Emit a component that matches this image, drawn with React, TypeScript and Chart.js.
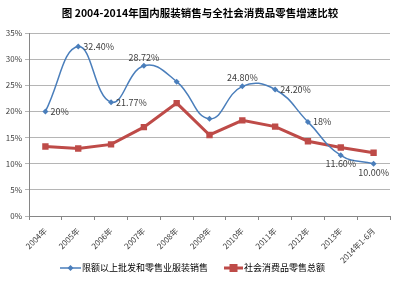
import React, { useEffect, useRef } from "react";
import { Chart, registerables } from "chart.js";

Chart.register(...registerables);

const categories = ["2004年", "2005年", "2006年", "2007年", "2008年", "2009年", "2010年", "2011年", "2012年", "2013年", "2014年1-6月"];
const apparelSales = [20, 32.4, 21.77, 28.72, 25.7, 18.6, 24.8, 24.2, 18, 11.6, 10];
const retailTotal = [13.3, 12.9, 13.7, 17.0, 21.6, 15.5, 18.3, 17.1, 14.3, 13.1, 12.1];
const apparelLabels = ["20%", "32.40%", "21.77%", "28.72%", "", "", "24.80%", "24.20%", "18%", "11.60%", "10.00%"];
const labelPlacement = ["right", "right", "right", "above", "", "", "above", "right", "right", "below", "below"];
const yTicks = [0, 5, 10, 15, 20, 25, 30, 35];
const titleText = "图 2004-2014年国内服装销售与全社会消费品零售增速比较";
const seriesNames = ["限额以上批发和零售业服装销售", "社会消费品零售总额"];

const FONT = "'Noto Sans CJK SC', 'Noto Sans', sans-serif";
const BLUE = "#4a7ebb";
const RED = "#be4b48";

export default function App() {
  const ref = useRef<HTMLCanvasElement | null>(null);
  useEffect(() => {
    document.body.style.margin = "0";
    const canvas = ref.current!;
    const overlay = {
      id: "overlay",
      afterDatasetsDraw(chart: any) {
        const ctx = chart.ctx;
        ctx.save();
        // title
        ctx.fillStyle = "#000";
        ctx.font = `bold 10.5px ${FONT}`;
        ctx.textAlign = "center";
        ctx.textBaseline = "middle";
        ctx.fillText(titleText, 200, 13);
        // data labels
        const meta = chart.getDatasetMeta(0);
        ctx.font = `9px ${FONT}`;
        ctx.fillStyle = "#404040";
        meta.data.forEach((pt: any, i: number) => {
          const t = apparelLabels[i];
          if (!t) return;
          const p = labelPlacement[i];
          if (p === "right") {
            ctx.textAlign = "left";
            ctx.textBaseline = "middle";
            ctx.fillText(t, pt.x + 5, pt.y);
          } else if (p === "above") {
            ctx.textAlign = "center";
            ctx.textBaseline = "bottom";
            ctx.fillText(t, pt.x, pt.y - 4);
          } else {
            ctx.textAlign = "center";
            ctx.textBaseline = "top";
            ctx.fillText(t, pt.x, pt.y + 4);
          }
        });
        // legend
        const ly = 268;
        ctx.font = `9px ${FONT}`;
        ctx.textAlign = "left";
        ctx.textBaseline = "middle";
        ctx.strokeStyle = BLUE;
        ctx.lineWidth = 1.5;
        ctx.beginPath();
        ctx.moveTo(60, ly);
        ctx.lineTo(81, ly);
        ctx.stroke();
        ctx.fillStyle = BLUE;
        ctx.beginPath();
        ctx.moveTo(70.5, ly - 3);
        ctx.lineTo(73.5, ly);
        ctx.lineTo(70.5, ly + 3);
        ctx.lineTo(67.5, ly);
        ctx.closePath();
        ctx.fill();
        ctx.fillStyle = "#000";
        ctx.fillText(seriesNames[0], 82, ly);
        ctx.strokeStyle = RED;
        ctx.lineWidth = 3;
        ctx.beginPath();
        ctx.moveTo(224, ly);
        ctx.lineTo(243, ly);
        ctx.stroke();
        ctx.fillStyle = RED;
        ctx.fillRect(229.5, ly - 4, 8, 8);
        ctx.fillStyle = "#000";
        ctx.fillText(seriesNames[1], 244, ly);
        ctx.restore();
      },
    };
    const chart = new Chart(canvas, {
      type: "line",
      data: {
        labels: categories,
        datasets: [
          {
            label: seriesNames[0],
            data: apparelSales,
            borderColor: BLUE,
            backgroundColor: BLUE,
            borderWidth: 1.5,
            tension: 0.45,
            pointStyle: "rectRot",
            pointRadius: 3,
            pointBorderWidth: 0,
            order: 1,
          },
          {
            label: seriesNames[1],
            data: retailTotal,
            borderColor: RED,
            backgroundColor: RED,
            borderWidth: 3,
            tension: 0,
            pointStyle: "rect",
            pointRadius: 4.5,
            pointBorderWidth: 0,
            order: 2,
          },
        ],
      },
      options: {
        animation: false,
        responsive: false,
        maintainAspectRatio: false,
        layout: { padding: { left: 0, right: 10, top: 33, bottom: 0 } },
        plugins: { legend: { display: false }, title: { display: false }, tooltip: { enabled: false } },
        scales: {
          x: {
            offset: true,
            grid: { offset: true, drawOnChartArea: false, drawTicks: true, tickLength: 4, color: "#868686" },
            border: { display: true, color: "#868686" },
            ticks: {
              minRotation: 45,
              maxRotation: 45,
              autoSkip: false,
              color: "#404040",
              font: { size: 8, family: FONT },
              padding: 6,
            },
            afterFit(scale: any) {
              scale.height = 67;
            },
          },
          y: {
            min: 0,
            max: 35,
            afterBuildTicks(scale: any) {
              scale.ticks = yTicks.map((v) => ({ value: v }));
            },
            grid: { color: "#b5b5b5", lineWidth: 1, drawTicks: true, tickLength: 4 },
            border: { display: true, color: "#868686" },
            ticks: {
              color: "#404040",
              font: { size: 8, family: FONT },
              padding: 3,
              callback: (v: any) => `${v}%`,
            },
            afterFit(scale: any) {
              scale.width = 29;
            },
          },
        },
      },
      plugins: [overlay],
    });
    return () => chart.destroy();
  }, []);
  return (
    <div style={{ width: 400, height: 283, background: "#fff" }}>
      <canvas ref={ref} width={400} height={283} style={{ display: "block" }} />
    </div>
  );
}
